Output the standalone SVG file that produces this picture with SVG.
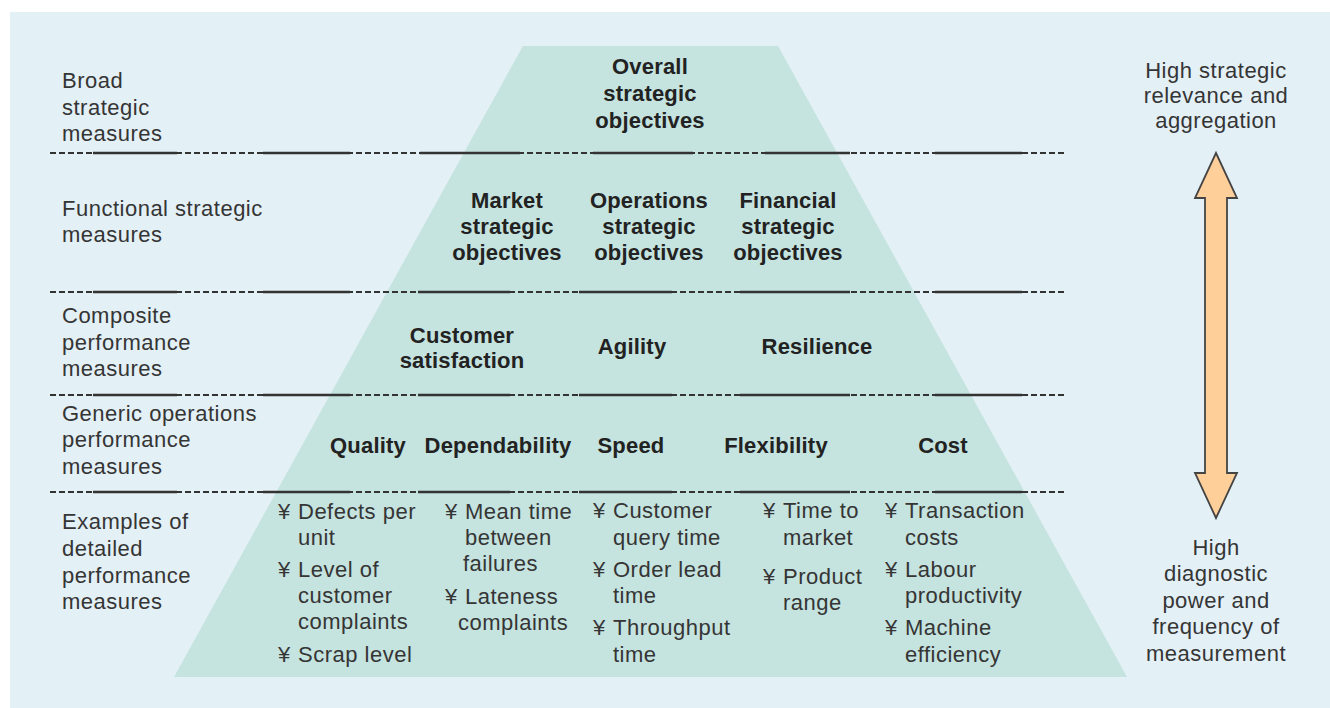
<svg xmlns="http://www.w3.org/2000/svg" width="1330" height="708" viewBox="0 0 1330 708">
<style>
.lbl{font-family:"Liberation Sans",Arial,sans-serif;font-size:22px;fill:#353535;letter-spacing:0.5px}
.b{font-family:"Liberation Sans",Arial,sans-serif;font-size:22px;font-weight:bold;fill:#222;letter-spacing:0.2px;text-anchor:middle}
.c{text-anchor:middle}
.dash{stroke:#333;stroke-width:2;stroke-dasharray:6 3;fill:none}
.solid{stroke:#333;stroke-width:2.4;fill:none}
</style>
<rect x="0" y="0" width="1330" height="708" fill="#ffffff"/>
<rect id="panel" x="10" y="12" width="1320" height="696" fill="#e3f0f5"/>
<polygon id="pyramid" points="523,46 778,46 1127,677 174,677" fill="#c5e3df"/>

<g id="connectors">
  <g id="divider-lines">
    <line class="dash" x1="50" y1="153" x2="1067" y2="153"/>
    <line class="dash" x1="50" y1="292" x2="1067" y2="292"/>
    <line class="dash" x1="50" y1="395" x2="1067" y2="395"/>
    <line class="dash" x1="50" y1="492" x2="1067" y2="492"/>
    <path class="solid" d="M93 153H177M263 153H350M420 153H520M593 153H693M765 153H850M935 153H1022"/>
    <path class="solid" d="M93 292H177M263 292H350M418 292H510M579 292H672M740 292H850M935 292H1022"/>
    <path class="solid" d="M93 395H177M263 395H350M418 395H510M579 395H672M740 395H850M935 395H1022"/>
    <path class="solid" d="M93 492H177M263 492H350M418 492H510M579 492H672M740 492H850M935 492H1022"/>
  </g>
  <polygon id="double-arrow" points="1216,153 1237,198 1227,198 1227,473 1237,473 1216,518 1195,473 1205,473 1205,198 1195,198" fill="#ffcf99" stroke="#444" stroke-width="1.8" stroke-linejoin="miter"/>
</g>

<g id="row-labels">
  <g id="lbl-broad"><text class="lbl" x="62" y="88">Broad</text><text class="lbl" x="62" y="114.5">strategic</text><text class="lbl" x="62" y="141">measures</text></g>
  <g id="lbl-functional"><text class="lbl" x="62" y="216">Functional strategic</text><text class="lbl" x="62" y="242">measures</text></g>
  <g id="lbl-composite"><text class="lbl" x="62" y="323">Composite</text><text class="lbl" x="62" y="349.5">performance</text><text class="lbl" x="62" y="376">measures</text></g>
  <g id="lbl-generic"><text class="lbl" x="62" y="421">Generic operations</text><text class="lbl" x="62" y="447">performance</text><text class="lbl" x="62" y="474">measures</text></g>
  <g id="lbl-examples"><text class="lbl" x="62" y="529">Examples of</text><text class="lbl" x="62" y="556">detailed</text><text class="lbl" x="62" y="583">performance</text><text class="lbl" x="62" y="609">measures</text></g>
</g>

<g id="side-labels">
  <g id="high-strategic"><text class="lbl c" x="1216" y="78">High strategic</text><text class="lbl c" x="1216" y="103">relevance and</text><text class="lbl c" x="1216" y="128">aggregation</text></g>
  <g id="high-diagnostic"><text class="lbl c" x="1216" y="555">High</text><text class="lbl c" x="1216" y="581">diagnostic</text><text class="lbl c" x="1216" y="608">power and</text><text class="lbl c" x="1216" y="634">frequency of</text><text class="lbl c" x="1216" y="661">measurement</text></g>
</g>

<g id="node-overall"><text class="b" x="650" y="74">Overall</text><text class="b" x="650" y="101">strategic</text><text class="b" x="650" y="128">objectives</text></g>
<g id="node-market"><text class="b" x="507" y="208">Market</text><text class="b" x="507" y="234">strategic</text><text class="b" x="507" y="260">objectives</text></g>
<g id="node-operations"><text class="b" x="649" y="208">Operations</text><text class="b" x="649" y="234">strategic</text><text class="b" x="649" y="260">objectives</text></g>
<g id="node-financial"><text class="b" x="788" y="208">Financial</text><text class="b" x="788" y="234">strategic</text><text class="b" x="788" y="260">objectives</text></g>
<g id="node-customer-satisfaction"><text class="b" x="462" y="343">Customer</text><text class="b" x="462" y="368">satisfaction</text></g>
<g id="node-agility"><text class="b" x="632" y="354">Agility</text></g>
<g id="node-resilience"><text class="b" x="817" y="354">Resilience</text></g>
<g id="node-quality"><text class="b" x="368" y="453">Quality</text></g>
<g id="node-dependability"><text class="b" x="498" y="453">Dependability</text></g>
<g id="node-speed"><text class="b" x="631" y="453">Speed</text></g>
<g id="node-flexibility"><text class="b" x="776" y="453">Flexibility</text></g>
<g id="node-cost"><text class="b" x="943" y="453">Cost</text></g>

<g id="examples-quality">
  <text class="lbl" x="278" y="519">¥</text><text class="lbl" x="298" y="519">Defects per</text><text class="lbl" x="298" y="545">unit</text>
  <text class="lbl" x="278" y="577">¥</text><text class="lbl" x="298" y="577">Level of</text><text class="lbl" x="298" y="603">customer</text><text class="lbl" x="298" y="629">complaints</text>
  <text class="lbl" x="278" y="662">¥</text><text class="lbl" x="298" y="662">Scrap level</text>
</g>
<g id="examples-dependability">
  <text class="lbl" x="445" y="519">¥</text><text class="lbl" x="465" y="519">Mean time</text><text class="lbl" x="465" y="545">between</text><text class="lbl" x="463" y="571">failures</text>
  <text class="lbl" x="445" y="604">¥</text><text class="lbl" x="465" y="604">Lateness</text><text class="lbl" x="458" y="630">complaints</text>
</g>
<g id="examples-speed">
  <text class="lbl" x="593" y="518">¥</text><text class="lbl" x="613" y="518">Customer</text><text class="lbl" x="613" y="545">query time</text>
  <text class="lbl" x="593" y="577">¥</text><text class="lbl" x="613" y="577">Order lead</text><text class="lbl" x="613" y="603">time</text>
  <text class="lbl" x="593" y="635">¥</text><text class="lbl" x="613" y="635">Throughput</text><text class="lbl" x="613" y="662">time</text>
</g>
<g id="examples-flexibility">
  <text class="lbl" x="763" y="518">¥</text><text class="lbl" x="783" y="518">Time to</text><text class="lbl" x="783" y="545">market</text>
  <text class="lbl" x="763" y="584">¥</text><text class="lbl" x="783" y="584">Product</text><text class="lbl" x="783" y="610">range</text>
</g>
<g id="examples-cost">
  <text class="lbl" x="885" y="518">¥</text><text class="lbl" x="905" y="518">Transaction</text><text class="lbl" x="905" y="545">costs</text>
  <text class="lbl" x="885" y="577">¥</text><text class="lbl" x="905" y="577">Labour</text><text class="lbl" x="905" y="603">productivity</text>
  <text class="lbl" x="885" y="635">¥</text><text class="lbl" x="905" y="635">Machine</text><text class="lbl" x="905" y="662">efficiency</text>
</g>
</svg>
